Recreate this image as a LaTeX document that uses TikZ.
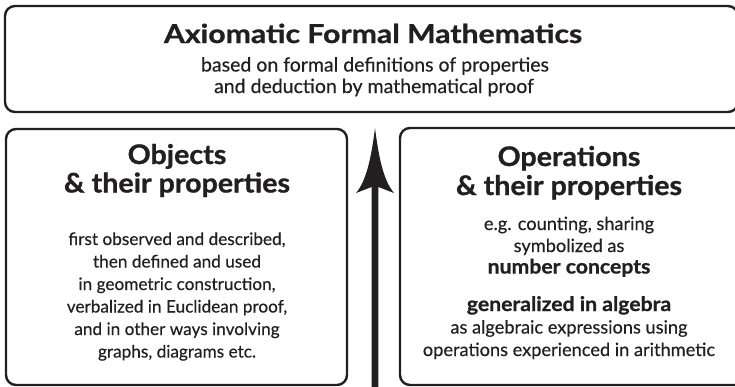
\documentclass[tikz,border=0pt]{standalone}
\usepackage{fontspec}
\usepackage{graphicx}
\setmainfont{Lato}[FakeBold=0.4, BoldFeatures={FakeBold=0.9}]
\definecolor{ink}{HTML}{231F20}
\newcommand\xwide[2]{\scalebox{#1}[1]{#2}}
\tikzset{
  panel/.style={draw=ink, line width=2.4pt, rounded corners=10pt},
  ttl/.style={anchor=base, inner sep=0pt, text=ink, font=\fontsize{27}{30}\selectfont\bfseries},
  bigttl/.style={anchor=base, inner sep=0pt, text=ink, font=\fontsize{26}{30}\selectfont\bfseries},
  topbody/.style={anchor=base, inner sep=0pt, text=ink, font=\fontsize{19.5}{22}\selectfont},
  lbody/.style={anchor=base, inner sep=0pt, text=ink, font=\fontsize{17.2}{21}\selectfont},
  rbody/.style={anchor=base, inner sep=0pt, text=ink, font=\fontsize{18.2}{21}\selectfont},
  rbodyb/.style={anchor=base, inner sep=0pt, text=ink, font=\fontsize{20}{22}\selectfont\bfseries},
}
\begin{document}
\begin{tikzpicture}[x=1pt,y=-1pt]
\useasboundingbox (0,0) rectangle (735,386);
% panels
\draw[panel] (5,6) rectangle (738,112);
\draw[panel] (6,129) rectangle (347,385);
\draw[panel] (400,128) rectangle (748,385);
% arrow
\coordinate (atip) at (375,128);
\fill[ink] (371.6,395) -- (371.6,187) -- (356,193)
  .. controls (366,181) and (371,160) .. (atip)
  .. controls (379,160) and (384,181) .. (394,193)
  -- (378.4,187) -- (378.4,395) -- cycle;
% top panel text
\node[bigttl] (axt) at (373,43) {\xwide{1.16}{Axiomatic Formal Mathematics}};
\node[topbody] (ax1) at (375,71.5) {based on formal definitions of properties};
\node[topbody] (ax2) at (374,93) {and deduction by mathematical proof};
% left panel
\node[ttl] (ob1) at (177,164) {\xwide{1.06}{Objects}};
\node[ttl] (ob2) at (177,192.5) {\xwide{1.06}{\& their properties}};
\node[lbody] (ol1) at (177,245) {first observed and described,};
\node[lbody] (ol2) at (177,267.5) {then defined and used};
\node[lbody] (ol3) at (177,290) {in geometric construction,};
\node[lbody] (ol4) at (177,312.5) {verbalized in Euclidean proof,};
\node[lbody] (ol5) at (177,335) {and in other ways involving};
\node[lbody] (ol6) at (177,357.5) {graphs, diagrams etc.};
% right panel
\node[ttl] (op1) at (569,166) {\xwide{1.06}{Operations}};
\node[ttl] (op2) at (569,195) {\xwide{1.06}{\& their properties}};
\node[rbody] (or1) at (569,230) {e.g. counting, sharing};
\node[rbody] (or2) at (569,252) {symbolized as};
\node[rbodyb] (or3) at (569,273.5) {\xwide{1.06}{number concepts}};
\node[rbodyb] (or4) at (569,311) {\xwide{1.06}{generalized in algebra}};
\node[rbody] (or5) at (569,333.5) {as algebraic expressions using};
\node[rbody] (or6) at (569,356) {operations experienced in arithmetic};
\end{tikzpicture}
\end{document}
